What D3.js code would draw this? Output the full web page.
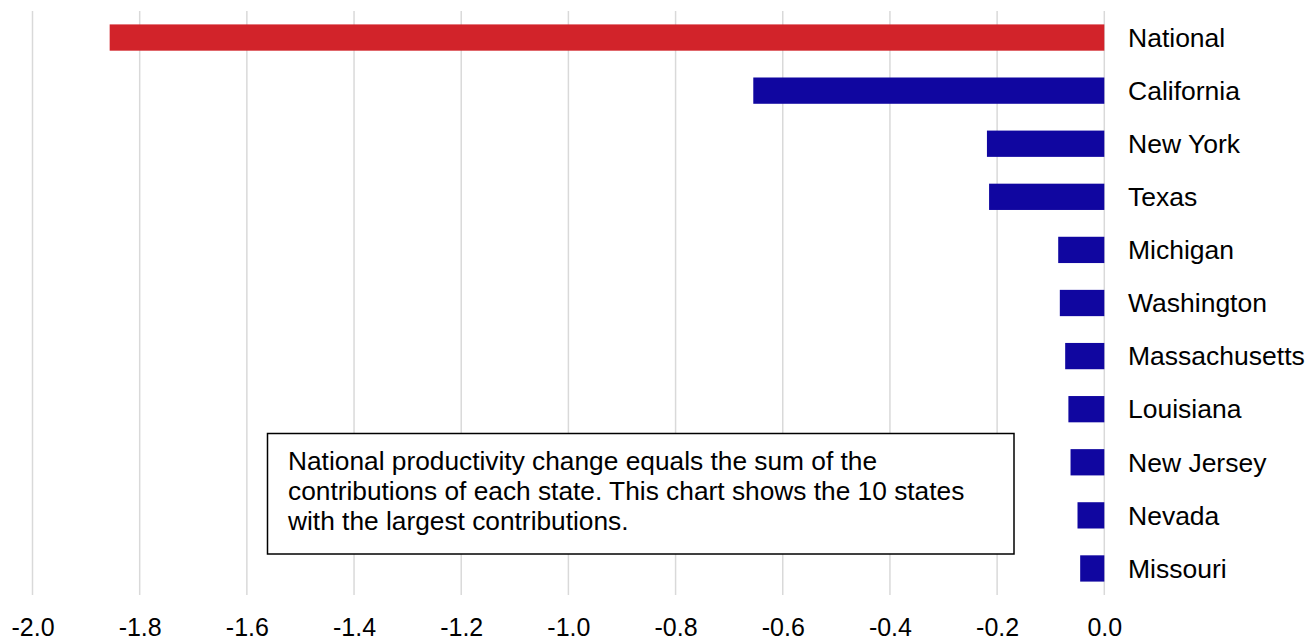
<!DOCTYPE html>
<html>
<head>
<meta charset="utf-8">
<script src="https://cdn.jsdelivr.net/npm/d3@7"></script>
<style>
  html, body { margin: 0; padding: 0; background: #fff; }
  svg { display: block; }
  text { font-family: "Liberation Sans", Arial, sans-serif; fill: #000; }
</style>
</head>
<body>
<svg id="chart" width="1316" height="641"></svg>
<script>
// Contribution to national productivity change, by state
const categories = ["National", "California", "New York", "Texas", "Michigan", "Washington",
  "Massachusetts", "Louisiana", "New Jersey", "Nevada", "Missouri"];
const values = [-1.856, -0.655, -0.219, -0.215, -0.086, -0.083, -0.073, -0.067, -0.063, -0.050, -0.045];
const tickValues = [-2.0, -1.8, -1.6, -1.4, -1.2, -1.0, -0.8, -0.6, -0.4, -0.2, 0.0];
const noteLines = [
  "National productivity change equals the sum of the",
  "contributions of each state. This chart shows the 10 states",
  "with the largest contributions."
];

const svg = d3.select("#chart");
const plot = { left: 32.5, right: 1104.3, top: 11, bottom: 595 };

const x = d3.scaleLinear().domain([-2.0, 0.0]).range([plot.left, plot.right]);
const y = d3.scaleBand().domain(categories).range([plot.top, plot.bottom]).paddingInner(0.505).paddingOuter(0.2525);

// vertical gridlines
svg.append("g").selectAll("line").data(tickValues).join("line")
  .attr("x1", d => x(d)).attr("x2", d => x(d))
  .attr("y1", plot.top).attr("y2", plot.bottom)
  .attr("stroke", "#d9d9d9").attr("stroke-width", 1.5);

// x-axis tick labels (plain hyphen for the minus sign)
const fmt = d3.format(".1f");
const xAxis = d3.axisBottom(x).tickValues(tickValues)
  .tickFormat(d => fmt(d).replace("\u2212", "-")).tickSize(0).tickPadding(0);
const gx = svg.append("g").attr("transform", `translate(0, ${plot.bottom})`).call(xAxis);
gx.select(".domain").remove();
gx.selectAll("text")
  .attr("y", 41).attr("dy", 0)
  .style("font-size", "25px")
  .style("font-family", "'Liberation Sans', Arial, sans-serif")
  .attr("fill", "#000");

// bars
svg.append("g").selectAll("rect").data(categories).join("rect")
  .attr("x", (d, i) => x(values[i]))
  .attr("width", (d, i) => x(0) - x(values[i]))
  .attr("y", d => y(d))
  .attr("height", y.bandwidth())
  .attr("fill", (d, i) => i === 0 ? "#d2232a" : "#1006a0");

// category labels right of the zero line
svg.append("g").selectAll("text").data(categories).join("text")
  .attr("x", 1128)
  .attr("y", d => y(d) + y.bandwidth() / 2)
  .attr("dy", "0.35em")
  .style("font-size", "26.5px")
  .text(d => d);

// note box
const note = svg.append("g");
note.append("rect")
  .attr("x", 267.5).attr("y", 433.5).attr("width", 746.5).attr("height", 120.5)
  .attr("fill", "#fff").attr("stroke", "#000").attr("stroke-width", 1.5);
note.selectAll("text").data(noteLines).join("text")
  .attr("x", 288)
  .attr("y", (d, i) => 470 + i * 30)
  .style("font-size", "26.3px")
  .text(d => d);
</script>
</body>
</html>
